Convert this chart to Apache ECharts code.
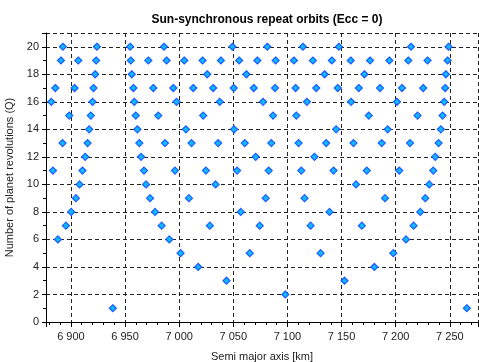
<!DOCTYPE html>
<html>
<head>
<meta charset="utf-8">
<script src="https://cdn.jsdelivr.net/npm/echarts@6/dist/echarts.min.js"></script>
<style>
  html, body { margin: 0; padding: 0; background: #fff; }
  #chart { width: 479px; height: 362px; }
</style>
</head>
<body>
<div id="chart"></div>
<script>
// semi major axis values [km] for each number of revolutions Q
const q1 = [6938.7, 7265.7]
const q2 = [7098]
const q3 = [7043.7, 7152.7]
const q4 = [7017.6, 7180.3]
const q5 = [7001.3, 7065.2, 7130.6, 7197.8]
const q6 = [6888, 6990.9, 7209.5]
const q7 = [6895.4, 6983.8, 7028.3, 7074.4, 7121.4, 7168.7, 7216.5]
const q8 = [6900.3, 6977.7, 7056.9, 7138.9, 7222.7]
const q9 = [6904.6, 6973.1, 7009, 7079.9, 7115.8, 7190.1, 7227.3]
const q10 = [6908, 6969.4, 7033.6, 7163.4, 7231]
const q11 = [6883.4, 6910.7, 6967.5, 6996.1, 7024.7, 7053.5, 7082.7, 7112.8, 7142.6, 7173.3, 7203.3, 7234.7]
const q12 = [6913.2, 6964.8, 7070.7, 7125, 7236.5]
const q13 = [6892.3, 6915.4, 6963.2, 6986.9, 7011.4, 7036, 7060.6, 7085.1, 7110.3, 7135.8, 7161, 7187.1, 7213.2, 7239.6]
const q14 = [6916.9, 6961.4, 7006.2, 7050.7, 7145, 7192.6, 7241.7]
const q15 = [6898.5, 6918.4, 6959.9, 6980.7, 7022.2, 7086.7, 7108.2, 7175.1, 7220.2, 7243.3]
const q16 = [6881.9, 6920, 6958.6, 6997.6, 7037.5, 7077.5, 7118, 7158.8, 7201.2, 7244.8]
const q17 = [6885.6, 6903.4, 6920.9, 6957.7, 6976.1, 6994.6, 7013, 7031.4, 7050.4, 7068.9, 7088.5, 7107.5, 7126.6, 7146.5, 7165.9, 7185.5, 7205.8, 7225.4, 7245.7]
const q18 = [6922.4, 6956.2, 7025.9, 7062.1, 7134.3, 7171.1, 7246.3]
const q19 = [6890.8, 6906.8, 6923.3, 6955.3, 6971.5, 6988.4, 7004.7, 7021.6, 7038.5, 7055.4, 7072.2, 7089.1, 7106, 7123.5, 7141, 7158.5, 7176.3, 7194.1, 7211.6, 7229.4, 7247.9]
const q20 = [6892.6, 6924, 6954.7, 6986, 7049.2, 7081.4, 7114.3, 7147.5, 7214.1, 7248.8]

const rows = [q1, q2, q3, q4, q5, q6, q7, q8, q9, q10, q11, q12, q13, q14, q15, q16, q17, q18, q19, q20]

const points = []
rows.forEach((row, i) => {
  row.forEach(a => points.push([a, i + 1]))
})

const font = 'Liberation Sans, Arial, sans-serif'
const fmtKm = v => {
  if (v % 50 !== 0) return ''
  const s = String(Math.round(v))
  return s.length > 3 ? s.slice(0, s.length - 3) + ' ' + s.slice(-3) : s
}

const chart = echarts.init(document.getElementById('chart'))
chart.setOption({
  backgroundColor: '#fff',
  animation: false,
  title: {
    text: 'Sun-synchronous repeat orbits (Ecc = 0)',
    left: 262,
    textAlign: 'center',
    top: 9,
    textStyle: { fontFamily: font, fontSize: 12, fontWeight: 'bold', color: '#000' }
  },
  grid: { left: 46, right: 1, top: 33, bottom: 40, outerBoundsMode: 'none' },
  xAxis: [
    {
      type: 'value',
      min: 6877,
      max: 7276,
      splitNumber: 8,
      name: 'Semi major axis [km]',
      nameLocation: 'middle',
      nameGap: 29,
      nameTextStyle: { fontFamily: font, fontSize: 11, color: '#222' },
      axisLine: { show: true, onZero: false, lineStyle: { color: '#000' } },
      axisTick: { show: true, length: 5, lineStyle: { color: '#000' } },
      minorTick: { show: true, splitNumber: 5, length: 3, lineStyle: { color: '#000' } },
      axisLabel: {
        fontFamily: font, fontSize: 11, color: '#222', margin: 9,
        showMinLabel: false, showMaxLabel: false,
        formatter: fmtKm
      },
      splitLine: { show: true, lineStyle: { color: '#222', type: [4, 3], width: 1 } }
    },
    {
      type: 'value',
      position: 'top',
      min: 6877,
      max: 7276,
      splitNumber: 8,
      axisLine: { show: true, lineStyle: { color: '#000' } },
      axisTick: { show: true, inside: true, length: 5, lineStyle: { color: '#000' } },
      axisLabel: { show: false },
      splitLine: { show: false }
    }
  ],
  yAxis: {
    type: 'value',
    min: 0,
    max: 21,
    interval: 2,
    name: 'Number of planet revolutions (Q)',
    nameLocation: 'middle',
    nameGap: 30,
    nameTextStyle: { fontFamily: font, fontSize: 11, color: '#222' },
    axisLine: { show: true, lineStyle: { color: '#000' } },
    axisTick: { show: true, length: 4, lineStyle: { color: '#000' } },
    minorTick: { show: true, splitNumber: 2, length: 3, lineStyle: { color: '#000' } },
    axisLabel: { fontFamily: font, fontSize: 11, color: '#222', margin: 7, showMaxLabel: false },
    splitLine: { show: true, lineStyle: { color: '#222', type: [4, 3], width: 1 } }
  },
  series: [
    {
      type: 'scatter',
      data: points,
      symbol: 'diamond',
      symbolSize: 7,
      itemStyle: { color: '#12b8ff', borderColor: '#1a5cff', borderWidth: 1.2, opacity: 1 }
    }
  ]
})
</script>
</body>
</html>
